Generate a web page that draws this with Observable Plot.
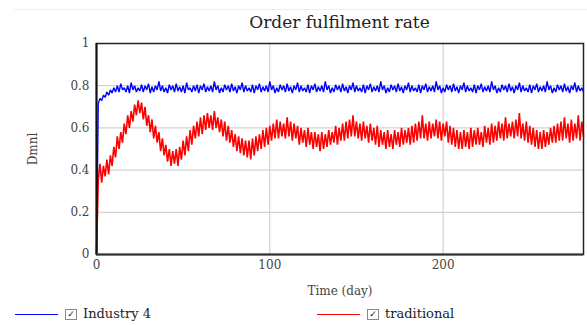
<!DOCTYPE html>
<html>
<head>
<meta charset="utf-8">
<script src="https://cdn.jsdelivr.net/npm/d3@7"></script>
<script src="https://cdn.jsdelivr.net/npm/@observablehq/plot@0.6"></script>
<style>
  html, body { margin: 0; padding: 0; background: #fff; }
  #wrap { position: relative; width: 587px; height: 325px; overflow: hidden; font-family: "DejaVu Serif", "Liberation Serif", serif; }
  #topline { position: absolute; left: 14px; right: 0; top: 9px; border-top: 1px solid #eee; }
  #title { position: absolute; left: 96px; width: 487px; top: 12px; text-align: center; font-size: 17px; color: #222; }
  #chart { position: absolute; left: 0; top: 0; }
  .leg { position: absolute; top: 306px; height: 16px; font-size: 13px; color: #222; white-space: nowrap; }
  .leg .ln { position: absolute; top: 8px; height: 0; border-top: 1.5px solid; }
  .leg .cb { position: absolute; top: 3px; width: 10px; height: 9px; border: 1px solid #888; font-size: 9px; line-height: 9px; text-align: center; color: #222; font-family: "DejaVu Sans", sans-serif; }
  .leg .tx { position: absolute; top: 0px; }
</style>
</head>
<body>
<div id="wrap">
  <div id="topline"></div>
  <div id="chart"></div>
  <div id="title"></div>
  <div id="legend"></div>
</div>
<script>
const titleText = "Order fulfilment rate";
const xLabel = "Time (day)";
const yLabel = "Dmnl";
const seriesNames = ["Industry 4", "traditional"];
const seriesColors = ["#0000ff", "#ff0000"];
const seriesWidths = [1.4, 1.6];
const xTicks = [0, 100, 200];
const yTicks = [0, 0.2, 0.4, 0.6, 0.8, 1];
const xDomain = [0, 281];
const startDay = 0;
const stepDay = 1;

// Industry 4 (one value per day)
const industry4 = [
  0, 0.715, 0.74, 0.73, 0.755, 0.745, 0.77, 0.755, 0.78, 0.765, 0.79, 0.77,
  0.80, 0.77, 0.81, 0.78, 0.79, 0.77, 0.80, 0.765, 0.815, 0.78, 0.80, 0.77, 0.79, 0.775, 0.805, 0.77, 0.80, 0.78, 0.81, 0.765,
  0.795, 0.77, 0.80, 0.78, 0.82, 0.775, 0.80, 0.77, 0.79, 0.765, 0.805, 0.78, 0.80, 0.77, 0.81, 0.775, 0.795, 0.77, 0.80, 0.765,
  0.815, 0.78, 0.79, 0.77, 0.80, 0.775, 0.805, 0.765, 0.80, 0.78, 0.81, 0.77, 0.795, 0.775, 0.80, 0.77, 0.82, 0.78, 0.80, 0.765,
  0.79, 0.77, 0.805, 0.78, 0.80, 0.77, 0.81, 0.775, 0.795, 0.765, 0.80, 0.78, 0.815, 0.77, 0.80, 0.775, 0.79, 0.77, 0.805, 0.765,
  0.80, 0.78, 0.81, 0.77, 0.795, 0.775, 0.80, 0.77, 0.82, 0.78, 0.80, 0.765, 0.79, 0.77, 0.805, 0.78, 0.80, 0.77, 0.81, 0.775,
  0.795, 0.765, 0.80, 0.78, 0.815, 0.77, 0.80, 0.775, 0.79, 0.77, 0.805, 0.765, 0.80, 0.78, 0.81, 0.77, 0.795, 0.775, 0.80, 0.77,
  0.82, 0.78, 0.80, 0.765, 0.79, 0.77, 0.805, 0.78, 0.80, 0.77, 0.81, 0.775, 0.795, 0.765, 0.80, 0.78, 0.815, 0.77, 0.80, 0.775,
  0.79, 0.77, 0.805, 0.765, 0.80, 0.78, 0.81, 0.77, 0.795, 0.775, 0.80, 0.77, 0.82, 0.78, 0.80, 0.765, 0.79, 0.77, 0.805, 0.78,
  0.80, 0.77, 0.81, 0.775, 0.795, 0.765, 0.80, 0.78, 0.815, 0.77, 0.80, 0.775, 0.79, 0.77, 0.805, 0.765, 0.80, 0.78, 0.81, 0.77,
  0.795, 0.775, 0.80, 0.77, 0.82, 0.78, 0.80, 0.765, 0.79, 0.77, 0.805, 0.78, 0.80, 0.77, 0.81, 0.775, 0.795, 0.765, 0.80, 0.78,
  0.815, 0.77, 0.80, 0.775, 0.79, 0.77, 0.805, 0.765, 0.80, 0.78, 0.81, 0.77, 0.795, 0.775, 0.80, 0.77, 0.82, 0.78, 0.80, 0.765,
  0.79, 0.77, 0.805, 0.78, 0.80, 0.77, 0.81, 0.775, 0.795, 0.765, 0.80, 0.78, 0.815, 0.77, 0.80, 0.775, 0.79, 0.77, 0.805, 0.765,
  0.80, 0.78, 0.81, 0.77, 0.795, 0.775, 0.80, 0.77, 0.82, 0.78, 0.80, 0.765, 0.79, 0.77, 0.805, 0.78, 0.80, 0.77, 0.81, 0.775,
  0.795, 0.765, 0.80, 0.78, 0.815, 0.77, 0.80, 0.775, 0.79, 0.77
];

// traditional (one value per day)
const traditional = [
  0, 0.35, 0.43, 0.34, 0.42, 0.37, 0.45, 0.38, 0.47, 0.42,
  0.51, 0.46, 0.56, 0.50, 0.58, 0.53, 0.62, 0.57, 0.66, 0.60,
  0.68, 0.63, 0.71, 0.66, 0.73, 0.67, 0.72, 0.64, 0.70, 0.61,
  0.66, 0.58, 0.64, 0.55, 0.61, 0.53, 0.58, 0.49, 0.55, 0.47,
  0.52, 0.44, 0.50, 0.42, 0.49, 0.43, 0.50, 0.42, 0.51, 0.45,
  0.54, 0.47, 0.56, 0.49, 0.59, 0.52, 0.61, 0.55, 0.63, 0.56,
  0.65, 0.57, 0.66, 0.59, 0.67, 0.60, 0.66, 0.59, 0.68, 0.60,
  0.65, 0.58, 0.64, 0.56, 0.63, 0.54, 0.61, 0.53, 0.59, 0.51,
  0.57, 0.49, 0.56, 0.48, 0.55, 0.47, 0.54, 0.46, 0.54, 0.45,
  0.55, 0.47, 0.56, 0.49, 0.57, 0.50, 0.59, 0.51, 0.60, 0.52,
  0.61, 0.54, 0.62, 0.55, 0.64, 0.55, 0.63, 0.56, 0.62, 0.55,
  0.65, 0.56, 0.63, 0.54, 0.62, 0.55, 0.61, 0.52, 0.60, 0.53,
  0.59, 0.51, 0.60, 0.52, 0.58, 0.50, 0.58, 0.51, 0.57, 0.49,
  0.58, 0.50, 0.57, 0.51, 0.59, 0.52, 0.58, 0.53, 0.61, 0.52,
  0.60, 0.54, 0.62, 0.54, 0.63, 0.55, 0.64, 0.56, 0.66, 0.56,
  0.63, 0.55, 0.62, 0.54, 0.63, 0.55, 0.61, 0.53, 0.62, 0.54,
  0.60, 0.52, 0.61, 0.51, 0.59, 0.52, 0.58, 0.50, 0.59, 0.51,
  0.57, 0.50, 0.59, 0.52, 0.58, 0.51, 0.60, 0.52, 0.59, 0.53,
  0.60, 0.52, 0.61, 0.53, 0.62, 0.54, 0.63, 0.55, 0.66, 0.55,
  0.62, 0.54, 0.63, 0.55, 0.62, 0.56, 0.64, 0.55, 0.63, 0.54,
  0.62, 0.56, 0.63, 0.53, 0.61, 0.52, 0.60, 0.51, 0.59, 0.50,
  0.58, 0.50, 0.59, 0.51, 0.58, 0.50, 0.60, 0.51, 0.59, 0.52,
  0.60, 0.52, 0.58, 0.51, 0.61, 0.53, 0.60, 0.52, 0.62, 0.53,
  0.61, 0.54, 0.63, 0.55, 0.62, 0.54, 0.65, 0.55, 0.62, 0.56,
  0.63, 0.55, 0.64, 0.56, 0.67, 0.55, 0.62, 0.54, 0.63, 0.53,
  0.61, 0.52, 0.60, 0.51, 0.59, 0.50, 0.58, 0.50, 0.59, 0.51,
  0.58, 0.52, 0.60, 0.53, 0.61, 0.53, 0.62, 0.54, 0.63, 0.54,
  0.65, 0.55, 0.62, 0.53, 0.64, 0.54, 0.62, 0.55, 0.66, 0.54,
  0.63, 0.56
];

const seriesValues = [industry4, traditional];
const seriesRecords = seriesValues.map((vals, s) =>
  vals.map((v, i) => ({ day: startDay + i * stepDay, value: v, series: seriesNames[s] })));

const chart = Plot.plot({
  width: 587,
  height: 325,
  marginLeft: 96,
  marginRight: 4,
  marginTop: 43,
  marginBottom: 71,
  style: { fontFamily: "DejaVu Serif, Liberation Serif, serif", fontSize: "12px", color: "#444", background: "transparent", overflow: "visible" },
  x: { domain: xDomain },
  y: { domain: [0, 1] },
  color: { domain: seriesNames, range: seriesColors },
  marks: [
    Plot.gridY(yTicks.filter(d => d > 0 && d < 1), { stroke: "#c8c8c8", strokeOpacity: 1, strokeWidth: 1 }),
    Plot.gridX(xTicks.filter(d => d > 0), { stroke: "#c8c8c8", strokeOpacity: 1, strokeWidth: 1 }),
    // traditional first, Industry 4 on top
    Plot.line(seriesRecords[1], { x: "day", y: "value", stroke: "series", strokeWidth: seriesWidths[1], strokeLinejoin: "miter" }),
    Plot.line(seriesRecords[0], { x: "day", y: "value", stroke: "series", strokeWidth: seriesWidths[0], strokeLinejoin: "miter" }),
    Plot.frame({ stroke: "#222", strokeWidth: 1.5 }),
    Plot.ruleX([xDomain[0]], { stroke: "#111", strokeWidth: 2 }),
    Plot.ruleY([0], { stroke: "#333", strokeWidth: 2 }),
    Plot.axisY(yTicks, { tickSize: 0, tickPadding: 7, tickFormat: d => String(d), label: yLabel, labelAnchor: "center", labelArrow: "none", labelOffset: 68, fill: "#444" }),
    Plot.axisX(xTicks, { tickSize: 0, tickPadding: 6, tickFormat: d => String(d), label: xLabel, labelAnchor: "center", labelArrow: "none", labelOffset: 40, fill: "#444" })
  ]
});
document.getElementById("chart").appendChild(chart);
document.getElementById("title").textContent = titleText;

const legendPos = [
  { line: [15, 58], box: 65, text: 83 },
  { line: [317, 360], box: 367, text: 385 }
];
const legend = document.getElementById("legend");
seriesNames.forEach((name, i) => {
  const p = legendPos[i];
  const g = document.createElement("div");
  g.className = "leg";
  g.style.left = "0px";
  g.style.width = "587px";
  g.innerHTML = `<div class="ln" style="left:${p.line[0]}px;width:${p.line[1]-p.line[0]}px;border-color:${seriesColors[i]}"></div>` +
    `<div class="cb" style="left:${p.box}px">✓</div>` +
    `<div class="tx" style="left:${p.text}px">${name}</div>`;
  legend.appendChild(g);
});
</script>
</body>
</html>
